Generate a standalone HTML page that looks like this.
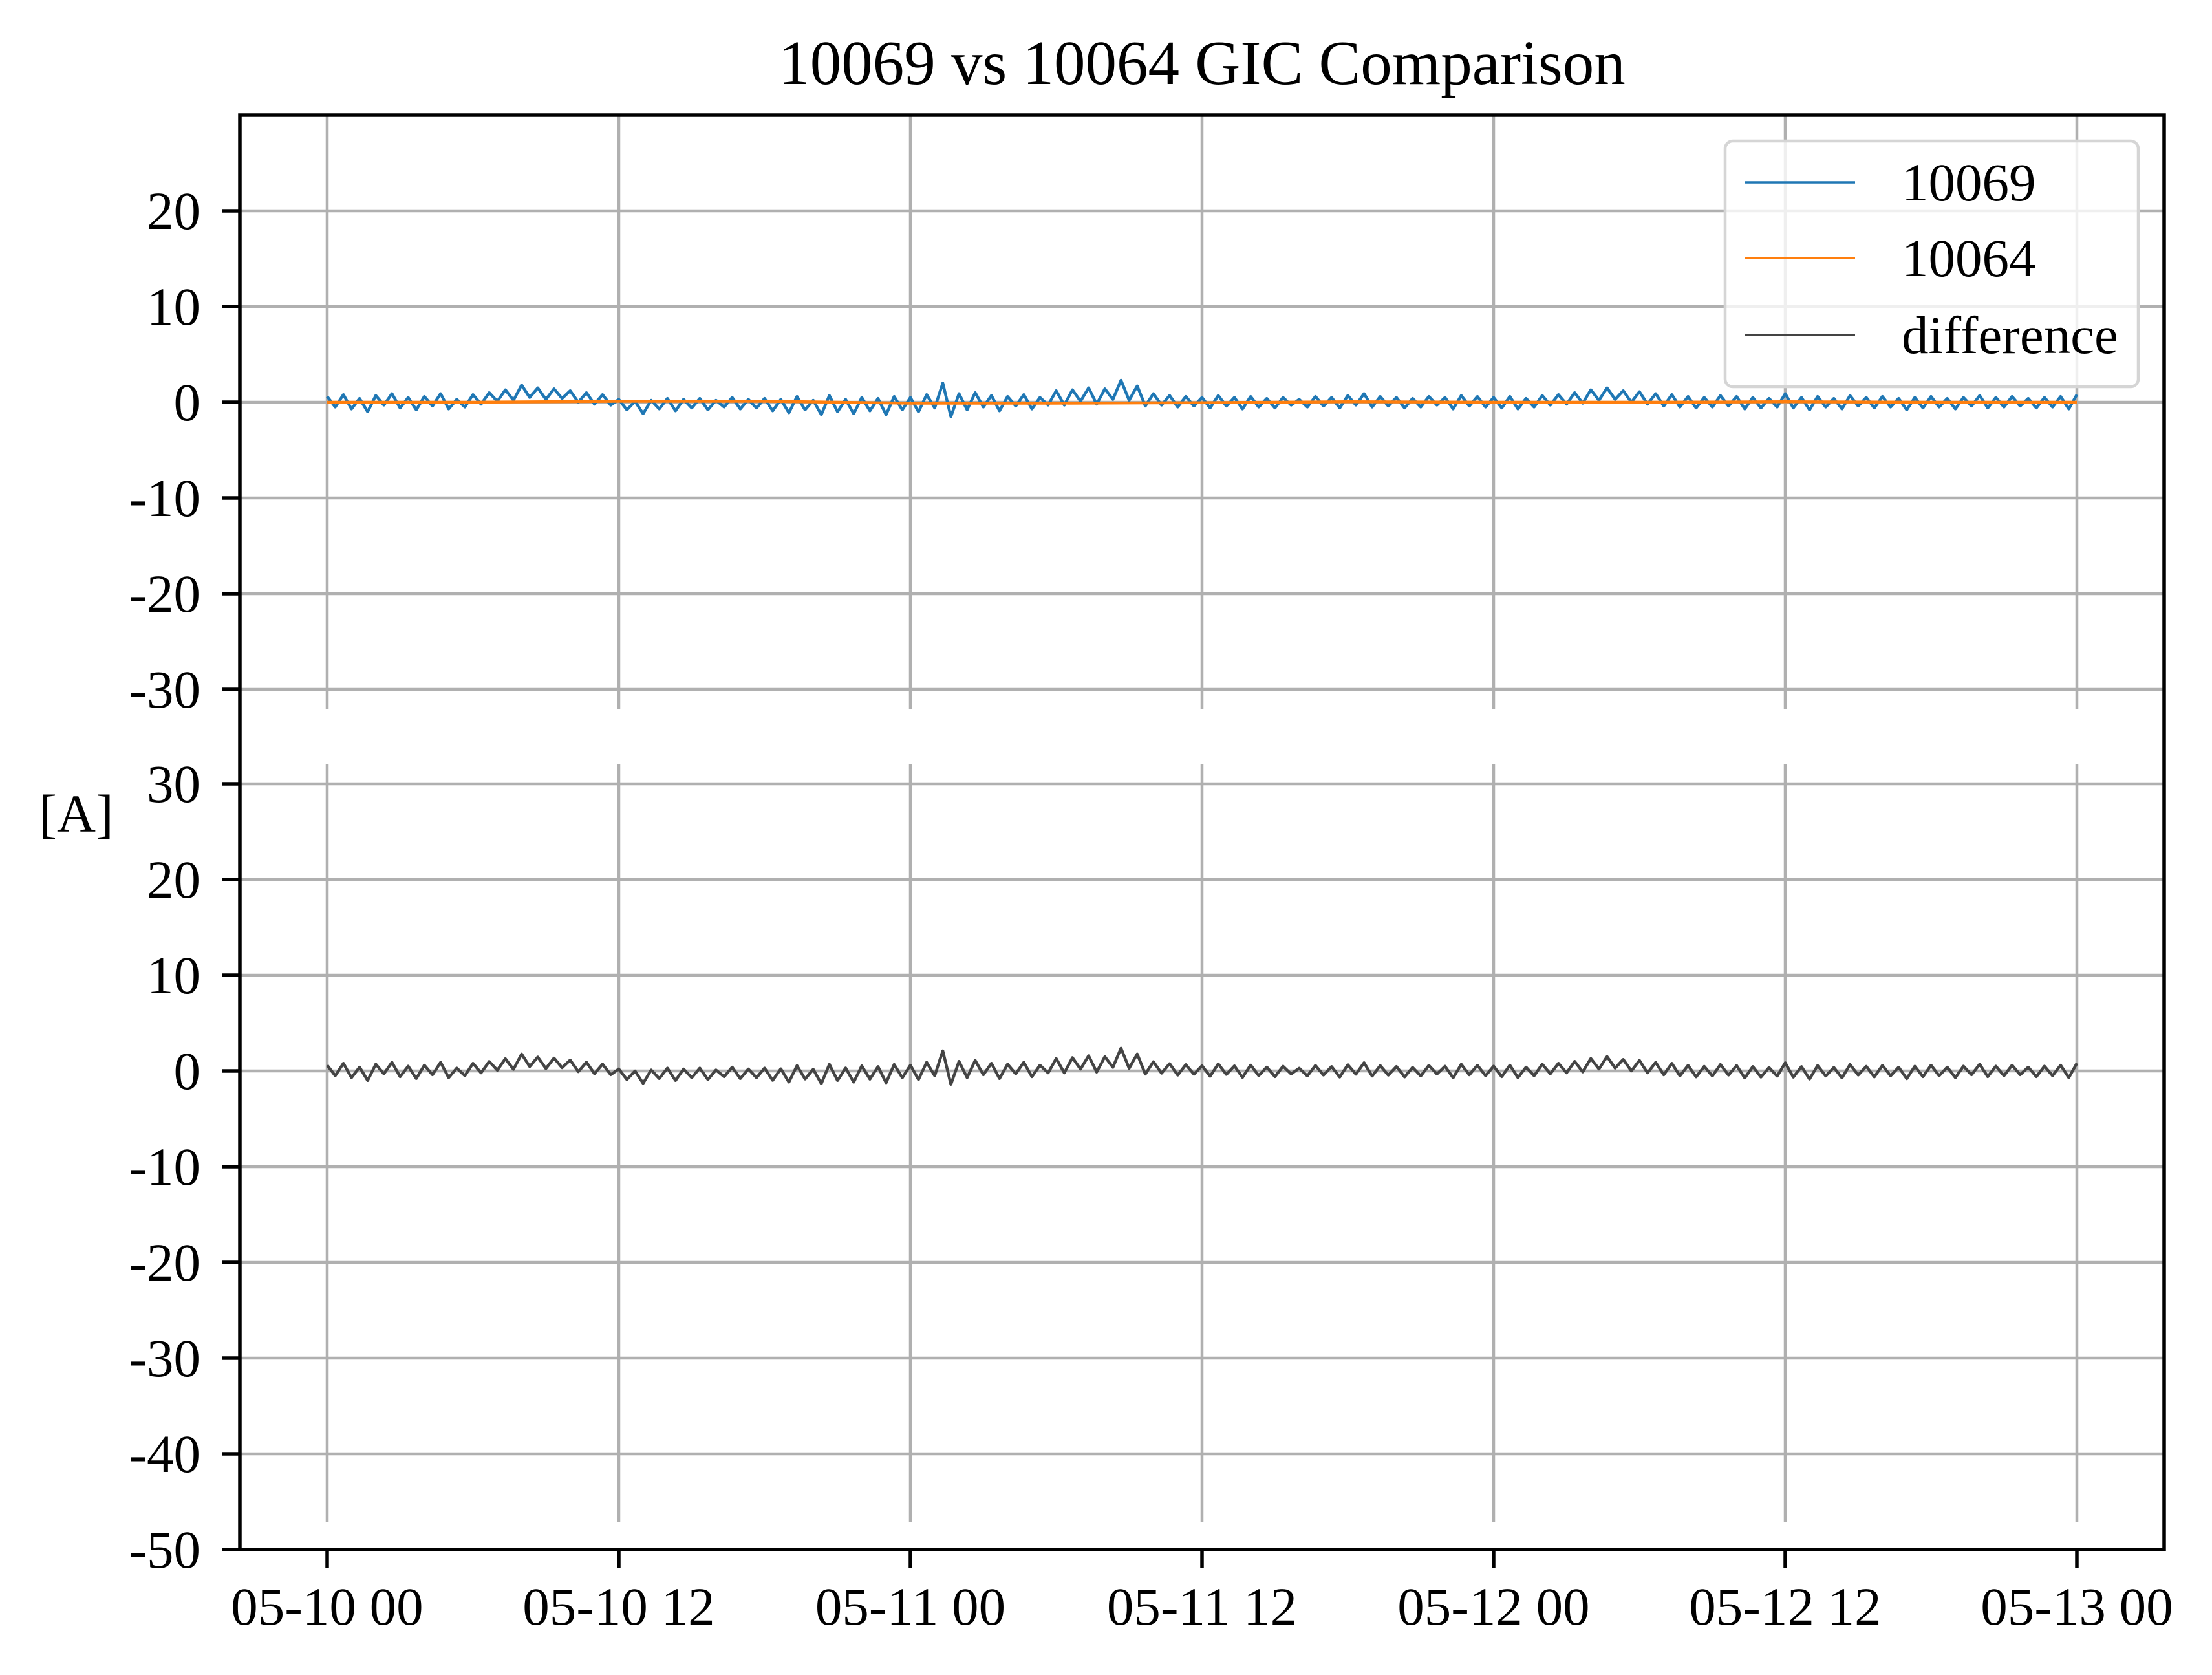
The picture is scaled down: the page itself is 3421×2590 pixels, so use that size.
<!DOCTYPE html>
<html><head><meta charset="utf-8"><style>
html,body{margin:0;padding:0;background:#fff;}
svg{display:block;font-family:"Liberation Serif","DejaVu Serif",serif;}
</style></head><body>
<svg id="chart" width="3421" height="2590" viewBox="0 0 3421 2590" xmlns="http://www.w3.org/2000/svg">
<rect x="0" y="0" width="3421" height="2590" fill="#fff"/>
<text x="1859" y="130" font-size="97" text-anchor="middle">10069 vs 10064 GIC Comparison</text>
<text x="118" y="1258" font-size="83" text-anchor="middle" dominant-baseline="central">[A]</text>
<g id="grid"></g>
<g id="series"></g>
<g id="axes"></g>
<g id="legend"></g>
</svg>
<script>
const xTickLabels = ["05-10 00","05-10 12","05-11 00","05-11 12","05-12 00","05-12 12","05-13 00"];
const xTickHours = [0,12,24,36,48,60,72];
const upperYTicks = [20,10,0,-10,-20,-30];
const lowerYTicks = [30,20,10,0,-10,-20,-30,-40,-50];
const sampleStepHours = 1/3;
const series10069 = [
0.6,-0.5,0.8,-0.7,0.4,-1.0,0.7,-0.3,0.9,-0.6,0.5,-0.8,0.6,-0.4,0.9,-0.7,0.3,-0.5,
0.8,-0.2,1.0,0.1,1.3,0.2,1.8,0.5,1.5,0.3,1.4,0.4,1.2,0.0,1.0,-0.2,0.8,-0.3,
0.3,-0.8,0.1,-1.2,0.2,-0.7,0.4,-0.9,0.3,-0.6,0.4,-0.8,0.2,-0.5,0.5,-0.7,0.3,-0.6,
0.4,-0.9,0.3,-1.1,0.6,-0.8,0.2,-1.3,0.7,-1.0,0.3,-1.2,0.5,-0.9,0.4,-1.3,0.6,-0.8,
0.5,-1.0,0.8,-0.6,2.0,-1.5,0.9,-0.8,1.0,-0.5,0.7,-0.9,0.6,-0.4,0.8,-0.7,0.5,-0.3,
1.2,-0.3,1.3,0.1,1.5,-0.2,1.4,0.3,2.3,0.2,1.7,-0.4,0.9,-0.3,0.7,-0.5,0.6,-0.4,
0.5,-0.6,0.7,-0.4,0.5,-0.7,0.6,-0.5,0.4,-0.6,0.5,-0.3,0.3,-0.5,0.6,-0.4,0.5,-0.6,
0.7,-0.3,0.9,-0.5,0.6,-0.4,0.5,-0.6,0.4,-0.5,0.6,-0.3,0.5,-0.7,0.7,-0.4,0.6,-0.5,
0.5,-0.6,0.6,-0.7,0.4,-0.5,0.7,-0.3,0.8,-0.2,1.0,-0.1,1.3,0.2,1.5,0.3,1.2,0.0,
1.1,-0.2,0.9,-0.4,0.8,-0.5,0.6,-0.6,0.5,-0.5,0.7,-0.4,0.6,-0.7,0.5,-0.6,0.4,-0.5,
0.9,-0.6,0.5,-0.8,0.6,-0.5,0.4,-0.7,0.7,-0.4,0.5,-0.6,0.6,-0.5,0.4,-0.8,0.5,-0.6,
0.6,-0.5,0.4,-0.7,0.5,-0.4,0.7,-0.6,0.5,-0.5,0.6,-0.4,0.4,-0.6,0.5,-0.5,0.6,-0.7,
0.8];
const hours10064 = [0,6,12,18,24,30,36,42,48,54,60,66,72];
const series10064 = [0,0,0.1,0.1,-0.1,-0.1,-0.05,0.05,0,0,0.05,0,0];

const NS='http://www.w3.org/2000/svg';
const L=371,R=3347,TOP=178,BOT=2396;
const x=h=>506+h*(3212-506)/72;
const yU=v=>622-v*14.8;
const yL=v=>1656-v*14.8;
function mk(tag,attrs,parent){const e=document.createElementNS(NS,tag);for(const k in attrs)e.setAttribute(k,attrs[k]);parent.appendChild(e);return e;}
const grid=document.getElementById('grid'),axes=document.getElementById('axes'),ser=document.getElementById('series'),leg=document.getElementById('legend');
const GC='#b0b0b0',GW=4.5;
xTickHours.forEach((h,i)=>{
  let g1=mk('line',{x1:x(h),x2:x(h),y1:TOP,y2:1096,stroke:GC,'stroke-width':GW},grid);
  
  
  let g2=mk('line',{x1:x(h),x2:x(h),y1:1181,y2:2354,stroke:GC,'stroke-width':GW},grid);
  
  
  let t=mk('line',{x1:x(h),x2:x(h),y1:BOT,y2:BOT+28,stroke:'#000','stroke-width':5.5},axes);
  
  
  let lb=mk('text',{x:x(h),y:2512,'font-size':83,'text-anchor':'middle'},axes);
  lb.textContent=xTickLabels[i];
  
  
});
function yTicks(vals,f,nm){
  vals.forEach(v=>{
    let g=mk('line',{x1:L,x2:R,y1:f(v),y2:f(v),stroke:GC,'stroke-width':GW},grid);
    
    
    let t=mk('line',{x1:L-28,x2:L,y1:f(v),y2:f(v),stroke:'#000','stroke-width':5.5},axes);
    
    
    let lb=mk('text',{x:310,y:f(v),'font-size':83,'text-anchor':'end','dominant-baseline':'central'},axes);
    lb.textContent=String(v);
    
    
  });
}
yTicks(upperYTicks,yU,'upper');
yTicks(lowerYTicks,yL,'lower');
let frame=mk('rect',{x:L,y:TOP,width:R-L,height:BOT-TOP,fill:'none',stroke:'#000','stroke-width':5.5},axes);


function interp64(h){for(let i=0;i<hours10064.length-1;i++){if(h<=hours10064[i+1]){const t=(h-hours10064[i])/(hours10064[i+1]-hours10064[i]);return series10064[i]+t*(series10064[i+1]-series10064[i]);}}return series10064[series10064.length-1];}
const p69=series10069.map((v,i)=>x(i*sampleStepHours).toFixed(1)+','+yU(v).toFixed(1)).join(' ');
const p64=hours10064.map((h,i)=>x(h).toFixed(1)+','+yU(series10064[i]).toFixed(1)).join(' ');
const pdf=series10069.map((v,i)=>{const h=i*sampleStepHours;return x(h).toFixed(1)+','+yL(v-interp64(h)).toFixed(1);}).join(' ');
let s1=mk('polyline',{points:p69,fill:'none',stroke:'#1f77b4','stroke-width':4.5,'stroke-linejoin':'round'},ser);


let s2=mk('polyline',{points:p64,fill:'none',stroke:'#ff7f0e','stroke-width':4.5},ser);


let s3=mk('polyline',{points:pdf,fill:'none',stroke:'#444444','stroke-width':4.5,'stroke-linejoin':'round'},ser);


let box=mk('rect',{x:2668,y:218,width:639,height:380,rx:12,fill:'#fff','fill-opacity':0.8,stroke:'#d5d5d5','stroke-width':4.5},leg);


const legNames=['10069','10064','difference'],legCols=['#1f77b4','#ff7f0e','#444444'],legY=[282,399,518];
legNames.forEach((n,i)=>{
  let ln=mk('line',{x1:2699,x2:2869,y1:legY[i],y2:legY[i],stroke:legCols[i],'stroke-width':3.5},leg);
  
  
  let tx=mk('text',{x:2941,y:legY[i],'font-size':83,'dominant-baseline':'central'},leg);
  tx.textContent=n;
  
  
});
</script>
</body></html>
